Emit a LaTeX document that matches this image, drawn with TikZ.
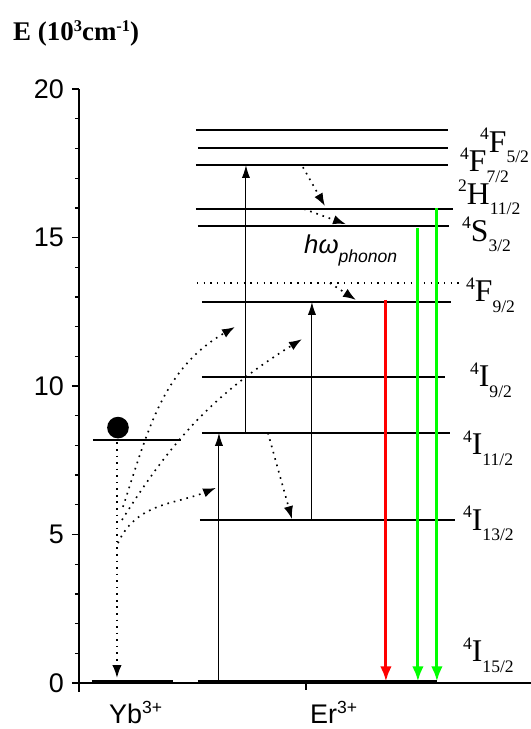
\documentclass[tikz,border=0pt]{standalone}
\usepackage{fontspec}
\setmainfont{Liberation Serif}
\setsansfont{Liberation Sans}
\usetikzlibrary{arrows.meta}

% spectroscopic term: superscript, letter, subscript
\newcommand{\specterm}[3]{\raisebox{11pt}{\fontsize{15}{15}\selectfont #1}#2\raisebox{-9pt}{\fontsize{15}{15}\selectfont #3}}
\newcommand{\supsm}[1]{\raisebox{9pt}{\fontsize{15}{15}\selectfont #1}}

\begin{document}
\begin{tikzpicture}[x=0.03cm, y=0.891cm,
    erlevel/.style={line width=1.5pt},
    gnd/.style={line width=2.6pt},
    pump/.style={-{Latex[length=11pt,width=7pt]}, line width=0.9pt},
    relax/.style={-{Latex[length=11pt,width=8pt]}, line width=1.4pt,
                  dash pattern=on 1.4pt off 4.2pt},
    emit/.style={-{Latex[length=13pt,width=10pt]}, line width=2.6pt},
    termlbl/.style={font=\fontsize{27}{30}\selectfont, inner sep=0pt, anchor=base west},
    ticklbl/.style={font=\sffamily\fontsize{23}{26}\selectfont, inner sep=0pt}]

  \useasboundingbox (-79,-1.549) rectangle (452,23.0);

  % axes
  \draw[line width=1.3pt] (0,-0.3) -- (0,20);
  \draw[line width=1.3pt] (0,0) -- (452,0);
  \foreach \e in {1,...,19} \draw[line width=1.1pt] (-4,\e) -- (0,\e);
  \foreach \e in {0,5,...,20} {
    \draw[line width=1.1pt] (-7,\e) -- (0,\e);
    \node[ticklbl, anchor=east] (t\e) at (-15,\e) {\e};
  }
  \draw[line width=1.1pt] (227,0) -- (227,-0.25);
  \node[font=\bfseries\fontsize{23}{26}\selectfont, anchor=base west, inner sep=0pt]
    (title) at (-66,21.62) {E (10\raisebox{8pt}{\fontsize{14}{14}\selectfont 3}cm\raisebox{8pt}{\fontsize{14}{14}\selectfont -1})};
  \node[ticklbl, anchor=base west] (yb) at (30,-1.38) {Yb\supsm{3+}};
  \node[ticklbl, anchor=base west] (er) at (231,-1.38) {Er\supsm{3+}};

  % Yb levels
  \draw[gnd] (13,0.06) -- (94,0.06);
  \draw[line width=2.2pt] (14,8.18) -- (102,8.18);
  \node[circle, fill, minimum size=0.65cm, inner sep=0pt] (ball) at (39,8.6) {};

  % Er levels
  \foreach \e/\a/\b in {18.62/117/369, 18.01/119/369, 17.44/117/369,
                        15.96/117/374, 15.39/119/370, 12.83/123/372,
                        10.30/123/366, 8.42/123/371, 5.49/121/376}
    \draw[erlevel] (\a,\e) -- (\b,\e);
  \draw[line width=1.2pt, dash pattern=on 1.2pt off 4.5pt] (118,13.47) -- (380,13.47);
  \draw[gnd] (119,0.06) -- (358,0.06);

  % level labels
  \node[termlbl] (F52)  at (401,17.88) {\specterm{4}{F}{5/2}};
  \node[termlbl] (F72)  at (381,17.21) {\specterm{4}{F}{7/2}};
  \node[termlbl] (H112) at (379,16.13) {\specterm{2}{H}{11/2}};
  \node[termlbl] (S32)  at (383,14.88) {\specterm{4}{S}{3/2}};
  \node[termlbl] (F92)  at (387,12.83) {\specterm{4}{F}{9/2}};
  \node[termlbl] (I92)  at (391,9.97)  {\specterm{4}{I}{9/2}};
  \node[termlbl] (I112) at (384,7.68)  {\specterm{4}{I}{11/2}};
  \node[termlbl] (I132) at (384,5.15)  {\specterm{4}{I}{13/2}};
  \node[termlbl] (I152) at (384,0.71)  {\specterm{4}{I}{15/2}};
  \node[font=\sffamily\itshape\fontsize{22}{26}\selectfont, anchor=base west, inner sep=0pt]
    (phon) at (225,14.48) {hω\raisebox{-8pt}{\fontsize{15}{15}\selectfont phonon}};

  % Yb relaxation and energy transfer
  \coordinate (yb1) at (38,8.1);   \coordinate (yb0) at (38,0.17);
  \coordinate (c1s) at (39,4.71);  \coordinate (c1e) at (137,6.57);
  \coordinate (c2s) at (43,5.49);  \coordinate (c2e) at (223,11.58);
  \coordinate (c3s) at (44,5.93);  \coordinate (c3e) at (156,11.99);
  \draw[relax] (yb1) -- (yb0);
  \draw[relax] (c1s) to[out=66, in=202] (c1e);
  \draw[relax] (c2s) to[out=58, in=212] (c2e);
  \draw[relax] (c3s) to[out=72, in=210] (c3e);

  % Er excitation
  \coordinate (p1s) at (140,0.1);  \coordinate (p1e) at (140,8.42);
  \coordinate (p2s) at (167,8.42); \coordinate (p2e) at (167,17.44);
  \coordinate (p3s) at (233,5.49); \coordinate (p3e) at (233,12.83);
  \draw[pump] (p1s) -- (p1e);
  \draw[pump] (p2s) -- (p2e);
  \draw[pump] (p3s) -- (p3e);

  % non-radiative steps
  \coordinate (d1s) at (189,8.42);  \coordinate (d1e) at (213,5.52);
  \coordinate (d2s) at (224,17.37); \coordinate (d2e) at (246,16.06);
  \coordinate (d3s) at (225,15.96); \coordinate (d3e) at (267,15.45);
  \coordinate (d4s) at (251,13.47); \coordinate (d4e) at (277,12.9);
  \draw[relax] (d1s) -- (d1e);
  \draw[relax] (d2s) -- (d2e);
  \draw[relax] (d3s) -- (d3e);
  \draw[relax] (d4s) -- (d4e);

  % emission
  \coordinate (rs) at (307,12.9);  \coordinate (re) at (307,0.05);
  \coordinate (g1s) at (339,15.32); \coordinate (g1e) at (339,0.05);
  \coordinate (g2s) at (358,15.99); \coordinate (g2e) at (358,0.05);
  \draw[emit, red] (rs) -- (re);
  \draw[emit, green] (g1s) -- (g1e);
  \draw[emit, green] (g2s) -- (g2e);
\end{tikzpicture}
\end{document}
